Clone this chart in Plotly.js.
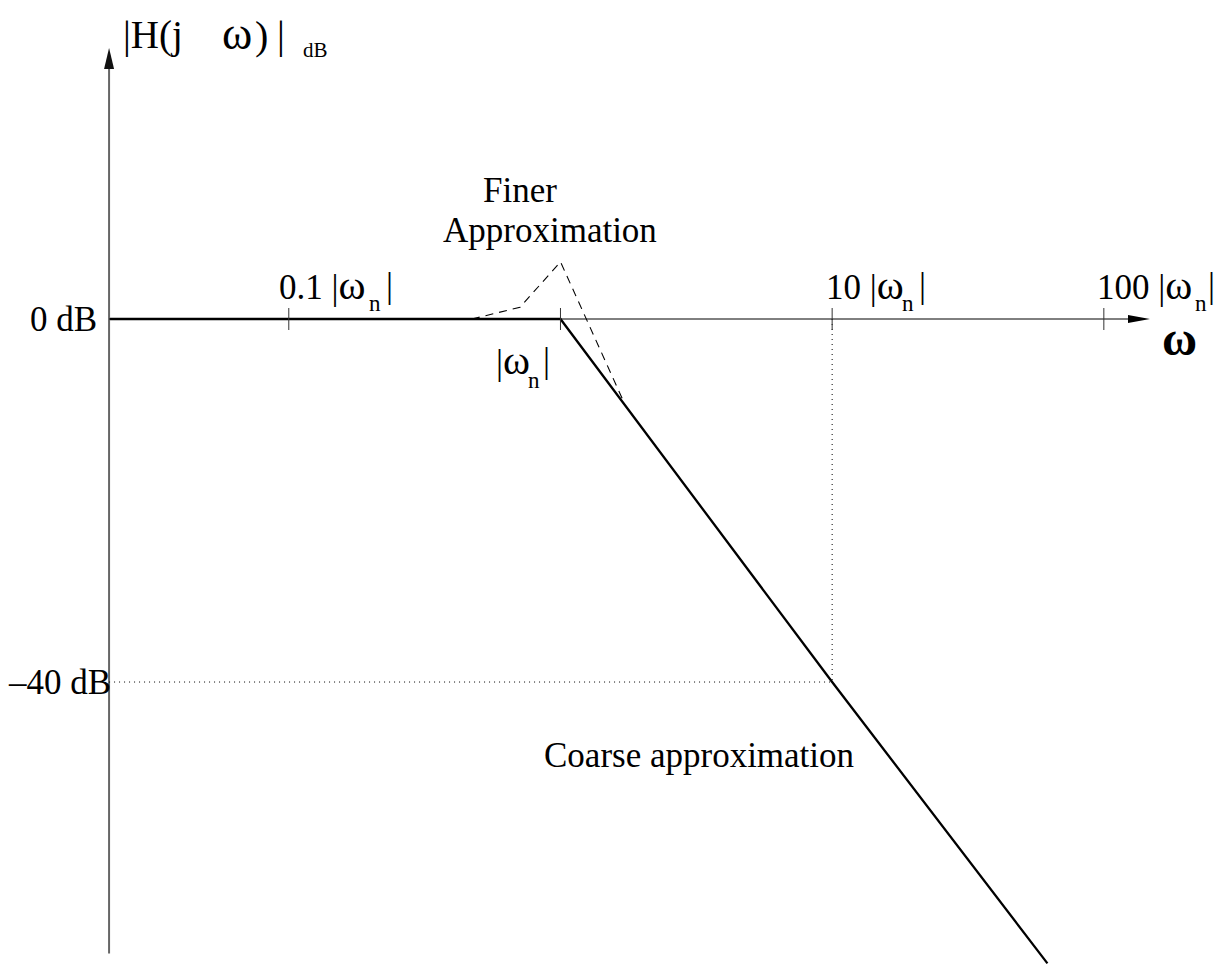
<!DOCTYPE html>
<html>
<head>
<meta charset="utf-8">
<script src="https://cdn.plot.ly/plotly-3.0.1.min.js"></script>
<style>
  html, body { margin: 0; padding: 0; background: #ffffff; }
  #chart { width: 1225px; height: 966px; }
</style>
</head>
<body>
<div id="chart"></div>
<script>
// Asymptotic (coarse) and refined magnitude curves of a second-order low-pass response
const omegaMin = 0.0218;                 // left end of the frequency axis
const coarseOmega = [omegaMin, 1, 10, 62];
const coarseDb = [0, 0, -40, -71];
const finerOmega = [0.472, 0.71, 1.0, 1.72];
const finerDb = [0, 1.3, 6.3, -9.3];

// Decade ticks on the frequency axis and their label prefixes
const tickOmega = [0.1, 1, 10, 100];
const tickPrefix = ['0.1 |', '|', '10 |', '100 |'];

// Magnitude levels marked on the vertical axis
const levelDb = [0, -40];
const levelText = ['0 dB', '\u201340 dB'];

// Corner of the dotted guide lines
const guideOmega = 10;
const guideDb = -40;

const W = 1225, H = 966;
const serif = 'Liberation Serif, Times New Roman, serif';
const lg = Math.log10;
const OMEGA = '<span style="font-size:41px">ω</span>';

// pixel layout of the frame
const xRange = [-2.063, 2.446];
const yRange = [-71.29, 35.15];
const yAxisTopDb = 29.86, yAxisBottomDb = -69.9;
const xAxisEndOmega = 147.9;

const traces = [
  {
    x: coarseOmega, y: coarseDb, type: 'scatter', mode: 'lines',
    line: { color: '#000000', width: 2.3 }, hoverinfo: 'skip'
  },
  {
    x: finerOmega, y: finerDb, type: 'scatter', mode: 'lines',
    line: { color: '#000000', width: 1.1, dash: '8px,6px' }, hoverinfo: 'skip'
  }
];

const shapes = [
  // vertical magnitude axis with arrow
  { type: 'line', xref: 'x', yref: 'y', x0: omegaMin, x1: omegaMin,
    y0: yAxisBottomDb, y1: yAxisTopDb - 2, line: { color: '#666666', width: 2 } },
  { type: 'path', xref: 'x', yref: 'y', xsizemode: 'pixel', ysizemode: 'pixel',
    xanchor: omegaMin, yanchor: yAxisTopDb, path: 'M 0 0 L -5 -21 L 5 -21 Z',
    fillcolor: '#111111', line: { width: 0 } },
  // horizontal frequency axis with arrow
  { type: 'line', xref: 'x', yref: 'y', x0: omegaMin, x1: xAxisEndOmega / 1.05,
    y0: 0, y1: 0, line: { color: '#000000', width: 1 } },
  { type: 'path', xref: 'x', yref: 'y', xsizemode: 'pixel', ysizemode: 'pixel',
    xanchor: xAxisEndOmega, yanchor: 0, path: 'M 0 0 L -22 4 L -22 -4 Z',
    fillcolor: '#000000', line: { width: 0 } },
  // dotted guides to the -40 dB point at 10 |ωn|
  { type: 'line', xref: 'x', yref: 'y', x0: omegaMin, x1: guideOmega,
    y0: guideDb, y1: guideDb, line: { color: '#000000', width: 1, dash: '1px,4px' } },
  { type: 'line', xref: 'x', yref: 'y', x0: guideOmega, x1: guideOmega,
    y0: 0, y1: guideDb, line: { color: '#000000', width: 1, dash: '1px,4px' } }
];

// decade tick marks crossing the frequency axis
tickOmega.forEach(t => {
  shapes.push({ type: 'line', xref: 'x', yref: 'y', ysizemode: 'pixel',
    x0: t, x1: t, yanchor: 0, y0: -11, y1: 11,
    line: { color: '#333333', width: 1 } });
});

const annotations = [];
function txt(o) {
  annotations.push(Object.assign({
    showarrow: false, font: { family: serif, size: 35, color: '#000000' },
    borderpad: 0
  }, o));
}

// tick labels: main text, subscript n, closing bar (offsets in px from the tick)
const tickLayout = [
  { main: -11, sub: 79, bar: 96, y: 34, subY: 16 },
  { main: -65, sub: -33, bar: -18, y: -41, subY: -61 },
  { main: -7, sub: 69, bar: 86, y: 34, subY: 16 },
  { main: -8, sub: 90, bar: 103, y: 34, subY: 16 }
];
tickOmega.forEach((t, i) => {
  const p = tickLayout[i];
  txt({ x: lg(t), y: 0, xref: 'x', yref: 'y', xanchor: 'left', yanchor: 'middle',
        xshift: p.main, yshift: p.y, text: tickPrefix[i] + OMEGA });
  txt({ x: lg(t), y: 0, xref: 'x', yref: 'y', xanchor: 'left', yanchor: 'middle',
        xshift: p.sub, yshift: p.subY, text: 'n', font: { family: serif, size: 23, color: '#000' } });
  txt({ x: lg(t), y: 0, xref: 'x', yref: 'y', xanchor: 'left', yanchor: 'middle',
        xshift: p.bar, yshift: p.y, text: '|' });
});

// level labels left of the magnitude axis
const levelShift = [-11, 3];
levelDb.forEach((d, i) => {
  txt({ x: lg(omegaMin), y: d, xref: 'x', yref: 'y', xanchor: 'right', yanchor: 'middle',
        xshift: levelShift[i], yshift: 0, text: levelText[i] });
});

// free text placed in figure pixels
function px(x) { return x / W; }
function py(y) { return 1 - y / H; }
function free(x, y, text, anchor, font) {
  const o = { x: px(x), y: py(y), xref: 'paper', yref: 'paper', xanchor: anchor,
              yanchor: 'middle', text: text };
  if (font) o.font = Object.assign({ family: serif, color: '#000' }, font);
  txt(o);
}
// vertical axis title |H(j ω)| with subscript dB
free(122, 35, '|H(j', 'left', { size: 39 });
free(221, 33, 'ω', 'left', { size: 46 });
free(254, 35, ')', 'left', { size: 40 });
free(276, 35, '|', 'left', { size: 39 });
free(302, 50, 'dB', 'left', { size: 21 });
// frequency axis symbol
free(1161, 338, 'ω', 'left', { size: 48, weight: 'bold' });
// curve captions
free(520, 190, 'Finer', 'center');
free(550, 230, 'Approximation', 'center');
free(699, 755, 'Coarse approximation', 'center');

const layout = {
  width: W, height: H,
  margin: { l: 0, r: 0, t: 0, b: 0, pad: 0 },
  paper_bgcolor: '#ffffff', plot_bgcolor: '#ffffff',
  showlegend: false,
  xaxis: { type: 'log', range: xRange, visible: false, fixedrange: true },
  yaxis: { range: yRange, visible: false, fixedrange: true },
  shapes: shapes,
  annotations: annotations
};

Plotly.newPlot('chart', traces, layout, { staticPlot: true, displayModeBar: false });
</script>
</body>
</html>
